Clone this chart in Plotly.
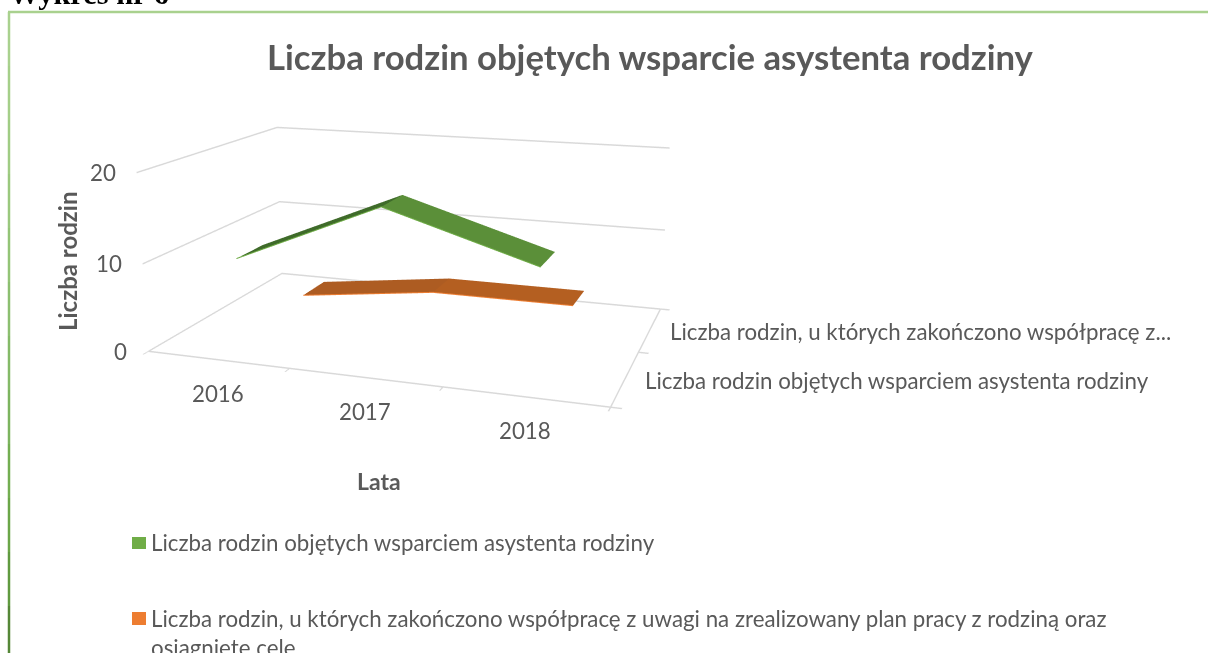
import plotly.graph_objects as go

categories = ["2016", "2017", "2018"]
series_names = ["Liczba rodzin objętych wsparciem asystenta rodziny",
                "Liczba rodzin, u których zakończono współpracę z uwagi na zrealizowany plan pracy z rodziną oraz<br>osiągnięte cele"]
depth_labels = ["Liczba rodzin objętych wsparciem asystenta rodziny",
                "Liczba rodzin, u których zakończono współpracę z..."]
z_ticks = [0, 10, 20]
green_values = [10, 17, 12]
orange_values = [1, 3, 3]

W, H = 1208, 653
# The figure is taller than the window and shifted up, to give the 3D view its long focal length.
TOP = 209
FH = 988
GREY = "#595959"
GRID = "#D9D9D9"

def ribbon(values, depth, top, first, edge, halfwidth=0.19):
    xs = [i + 0.5 for i in range(len(values))]
    vx, vy, vz, I, J, K, fc = [], [], [], [], [], [], []
    for x, v in zip(xs, values):
        vx += [x, x]; vy += [depth - halfwidth, depth + halfwidth]; vz += [v, v]
    for s in range(len(values) - 1):
        a = 2 * s
        I += [a, a + 1]; J += [a + 1, a + 3]; K += [a + 2, a + 2]
        c = first if s == 0 else top
        fc += [c, c]
    m = go.Mesh3d(x=vx, y=vy, z=vz, i=I, j=J, k=K, facecolor=fc, flatshading=True,
                  lighting=dict(ambient=1, diffuse=0, specular=0, roughness=1, fresnel=0),
                  showscale=False, hoverinfo="skip")
    l = go.Scatter3d(x=xs, y=[depth - halfwidth] * len(xs), z=values, mode="lines",
                     line=dict(color=edge, width=2), hoverinfo="skip", showlegend=False)
    return [m, l]

fig = go.Figure()
for t in ribbon(green_values, 0.5, "#5B8F39", "#3F6B2A", "#70AD47") + ribbon(orange_values, 1.5, "#B45F21", "#AD5C22", "#ED7D31"):
    fig.add_trace(t)

def ax(**k):
    d = dict(title=dict(text=""), showbackground=False, showspikes=False, zeroline=False, showticklabels=False,
             linecolor=GRID, gridcolor=GRID, tickcolor=GRID, linewidth=3, gridwidth=3, tickwidth=3)
    d.update(k)
    return d

TF = dict(family="Lato", size=22.3, color=GREY)
sa = []
for i, c in enumerate(categories):
    sa.append(dict(x=i + 0.5, y=0, z=0, text=c, showarrow=False, font=TF, yshift=-34))
for v in z_ticks:
    sa.append(dict(x=0, y=0, z=v, text=str(v), showarrow=False, font=TF, xanchor="right", xshift=-19))
for i, t in enumerate(depth_labels):
    sa.append(dict(x=3, y=i + 0.5, z=0, text=t, showarrow=False, font=TF, xanchor="left", xshift=18, yshift=-2.5))

def px(x): return x / W
def py(y): return 1 - (y + TOP) / FH

def note(x, y, text, size=22.3, **k):
    d = dict(xref="paper", yref="paper", x=px(x), y=py(y), text=text, showarrow=False, xanchor="center", yanchor="middle",
             font=dict(family="Lato", size=size, color=GREY))
    d.update(k)
    return d

def line(x0, y0, x1, y1, color, width):
    return dict(type="line", xref="paper", yref="paper", x0=px(x0), y0=py(y0), x1=px(x1), y1=py(y1),
                line=dict(color=color, width=width))

def rect(x0, y0, x1, y1, color):
    return dict(type="rect", xref="paper", yref="paper", x0=px(x0), y0=py(y0), x1=px(x1), y1=py(y1),
                fillcolor=color, line=dict(width=0))

border_left = ["#A9D18E", "#A5CF89", "#A0CC84", "#9AC87E", "#93C477", "#8CBF70", "#84BA68", "#7CB45F", "#73AE51", "#6BA648", "#609A40", "#558737"]
shapes = [line(8, 12, W, 12, "#A9D18E", 2.5)]
for n, c in enumerate(border_left):
    shapes.append(line(9, 12 + n * 54, 9, 12 + (n + 1) * 54, c, 2.5))
shapes += [rect(132, 537, 146, 549, "#70AD47"), rect(132, 612, 146, 625, "#ED7D31")]

fig.update_layout(
    width=W, height=FH, margin=dict(l=0, r=0, t=0, b=0), paper_bgcolor="white", showlegend=False,
    scene=dict(
        domain=dict(x=[0, 422.9 * 2 / W], y=[0, 1]),
        aspectmode="manual", aspectratio=dict(x=1, y=0.6680, z=0.3898),
        camera=dict(eye=dict(x=0.8441, y=-2.4443, z=0.6480), center=dict(x=0.1249, y=-0.3346, z=0.0114),
                    up=dict(x=-0.0049, y=0, z=1), projection=dict(type="perspective")),
        xaxis=ax(range=[0, 3], tickvals=[0, 1, 2, 3], showgrid=False, showline=True, ticks="outside", ticklen=8),
        yaxis=ax(range=[0, 2], tickvals=[0, 1, 2], showgrid=False, showline=True, ticks="outside", ticklen=8),
        zaxis=ax(range=[0, 20], tickvals=z_ticks, showgrid=True, showline=False),
        annotations=sa),
    shapes=shapes,
    annotations=[
        note(650, 56.5, "<b>Liczba rodzin objętych wsparcie asystenta rodziny</b>", size=34.7),
        note(68, 262, "<b>Liczba rodzin</b>", size=24, textangle=-90),
        note(379, 481, "<b>Lata</b>", size=23),
        note(7, -6, "<b>Wykres nr 6</b>", xanchor="left", font=dict(family="Liberation Serif", size=30.4, color="black")),
        note(149, 542, series_names[0], xanchor="left"),
        note(149, 603, series_names[1], xanchor="left", yanchor="top", align="left"),
    ],
)
fig.write_html("out.html", config=dict(displayModeBar=False),
               post_script=f"document.body.style.margin='-{TOP}px 0 0 0';document.documentElement.style.overflow='hidden';")
